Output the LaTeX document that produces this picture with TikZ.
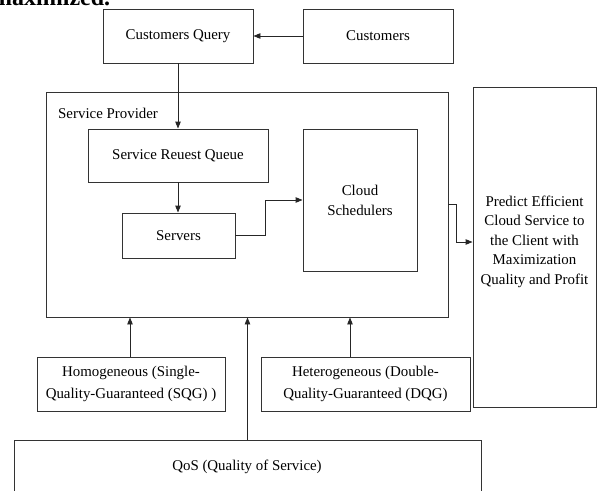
\documentclass[tikz,border=0pt]{standalone}
\usepackage{fontspec}
\setmainfont{Liberation Serif}
\usetikzlibrary{arrows.meta,calc}
\begin{document}
\begin{tikzpicture}[x=1pt,y=-1pt,
  box/.style={draw=black!80,line width=0.9pt,inner sep=0pt,align=center,
    font=\fontsize{14.9}{20}\selectfont},
  txt/.style={inner sep=0pt,align=center,font=\fontsize{14.9}{19.5}\selectfont},
  arr/.style={draw=black!85,line width=0.9pt,-{Triangle[length=7pt,width=5.5pt]}}]
\clip (0,0) rectangle (597,490);
\useasboundingbox (0,0) rectangle (597,490);
% cut-off text at the top
\node[anchor=base west,inner sep=0pt,font=\fontsize{24}{28}\selectfont\bfseries] (top) at (-8,5) {maximized.};
% boxes
\node[box,minimum width=150pt,minimum height=54pt] (cq) at (178,36) {Customers Query};
\node[box,minimum width=150pt,minimum height=54pt] (cu) at (378,36) {Customers};
\node[box,minimum width=402pt,minimum height=225pt] (sp) at (247,204.5) {};
\node[txt,anchor=west] (spl) at (58,113) {Service Provider};
\node[box,minimum width=180pt,minimum height=53pt] (srq) at (178,155.5) {Service Reuest Queue};
\node[box,minimum width=113pt,minimum height=45pt] (sv) at (178.5,235.5) {Servers};
\node[box,minimum width=114pt,minimum height=142pt] (cs) at (360,200) {Cloud\\[0pt]Schedulers};
\node[box,minimum width=123pt,minimum height=320pt] (pr) at (534.5,247) {};
\node[txt] (prt) at (534.5,241.5) {Predict Efficient\\Cloud Service to\\the Client with\\Maximization\\Quality and Profit};
\node[box,minimum width=188pt,minimum height=54pt,font=\fontsize{14.9}{21.5}\selectfont] (ho) at (131,384) {Homogeneous (Single-\\Quality-Guaranteed (SQG) )};
\node[box,minimum width=209pt,minimum height=54pt,font=\fontsize{14.9}{21.5}\selectfont] (he) at (365.5,384) {Heterogeneous (Double-\\Quality-Guaranteed (DQG)};
\node[box,minimum width=467pt,minimum height=80pt] (qos) at (247.5,480) {};
\node[txt] (qost) at (247,467) {QoS (Quality of Service)};
% connectors
\draw[arr] (cu) -- (cq);
\draw[arr] (cq.south) -- (srq.north);
\draw[arr] (srq.south) -- (srq.south |- sv.north);
\draw[arr] (sv.east) -- ++(30,0) |- (cs.west);
\draw[arr] (sp.east) -- ++(8,0) |- ([yshift=5pt]pr.west);
\draw[arr] ([xshift=-1pt]ho.north) -- ([xshift=-1pt]ho.north |- sp.south);
\draw[arr] ([xshift=-15.5pt]he.north) -- ([xshift=-15.5pt]he.north |- sp.south);
\draw[arr] (qos.north) -- (qos.north |- sp.south);
\end{tikzpicture}
\end{document}
